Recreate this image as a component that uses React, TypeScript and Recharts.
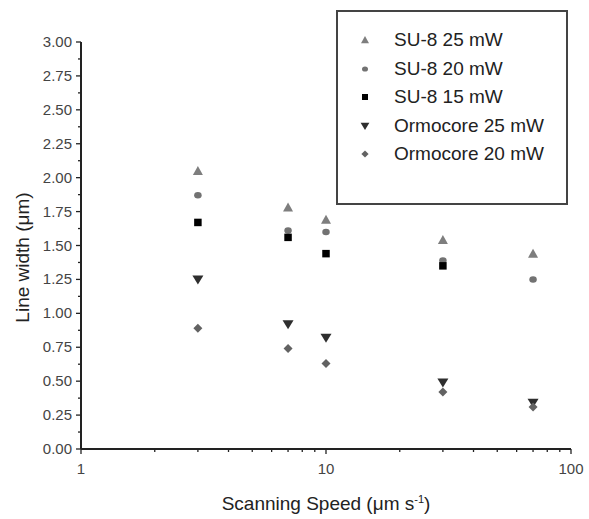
import React from 'react';
import { ScatterChart, Scatter, XAxis, YAxis, Legend, Label } from 'recharts';

const speeds = [3, 7, 10, 30, 70];
const su8_25 = [2.05, 1.78, 1.69, 1.54, 1.44];
const su8_20 = [1.87, 1.61, 1.6, 1.39, 1.25];
const su8_15 = [1.67, 1.56, 1.44, 1.35];
const ormo_25 = [1.25, 0.92, 0.82, 0.49, 0.34];
const ormo_20 = [0.89, 0.74, 0.63, 0.42, 0.31];

const seriesNames = ['SU-8 25 mW', 'SU-8 20 mW', 'SU-8 15 mW', 'Ormocore 25 mW', 'Ormocore 20 mW'];
const seriesColors = ['#7e7e7e', '#727272', '#000000', '#2e2e2e', '#626262'];

const xTicks = [1, 2, 3, 4, 5, 6, 7, 8, 9, 10, 20, 30, 40, 50, 60, 70, 80, 90, 100];
const xLabels = [1, 10, 100];
const yTicks = [0, 0.125, 0.25, 0.375, 0.5, 0.625, 0.75, 0.875, 1, 1.125, 1.25, 1.375, 1.5, 1.625, 1.75, 1.875, 2, 2.125, 2.25, 2.375, 2.5, 2.625, 2.75, 2.875, 3];

const FONT = '"Liberation Sans", Arial, sans-serif';
const AXIS = '#222';
const LABEL = '#444';

const toPoints = (vals: number[]) => vals.map((y, i) => ({ x: speeds[i], y }));

type Sym = (cx: number, cy: number, fill: string, s: number) => React.ReactElement;

const triUp: Sym = (cx, cy, fill, s) => (
  <path d={`M${cx},${cy - s} L${cx + s},${cy + s * 0.8} L${cx - s},${cy + s * 0.8}Z`} fill={fill} />
);
const dot: Sym = (cx, cy, fill, s) => <ellipse cx={cx} cy={cy} rx={s * 0.75} ry={s * 0.65} fill={fill} />;
const square: Sym = (cx, cy, fill, s) => (
  <rect x={cx - s * 0.75} y={cy - s * 0.75} width={s * 1.5} height={s * 1.5} fill={fill} />
);
const triDown: Sym = (cx, cy, fill, s) => (
  <path d={`M${cx - s * 1.1},${cy - s * 0.8} L${cx + s * 1.1},${cy - s * 0.8} L${cx},${cy + s}Z`} fill={fill} />
);
const diamond: Sym = (cx, cy, fill, s) => (
  <path d={`M${cx},${cy - s * 0.9} L${cx + s * 0.9},${cy} L${cx},${cy + s * 0.9} L${cx - s * 0.9},${cy}Z`} fill={fill} />
);

const symbols = [triUp, dot, square, triDown, diamond];
const seriesData = [su8_25, su8_20, su8_15, ormo_25, ormo_20];

const YTick = (props: any) => {
  const { x, y, payload } = props;
  const major = Math.abs(payload.value * 4 - Math.round(payload.value * 4)) < 1e-6;
  return (
    <g>
      <line x1={x - (major ? 5 : 3)} x2={x} y1={y} y2={y} stroke={AXIS} strokeWidth={1.3} />
      {major && (
        <text x={x - 9} y={y + 5} textAnchor="end" fontSize={15} fill={LABEL} fontFamily={FONT}>
          {payload.value.toFixed(2)}
        </text>
      )}
    </g>
  );
};

const XTick = (props: any) => {
  const { x, y, payload } = props;
  const major = xLabels.includes(payload.value);
  return (
    <g>
      <line x1={x} x2={x} y1={y} y2={y + (major ? 5 : 3)} stroke={AXIS} strokeWidth={1.3} />
      {major && (
        <text x={x} y={y + 25} textAnchor="middle" fontSize={15} fill={LABEL} fontFamily={FONT}>
          {payload.value}
        </text>
      )}
    </g>
  );
};

const LegendBox = () => (
  <div
    style={{
      width: 232,
      height: 195,
      boxSizing: 'border-box',
      border: '2px solid #444',
      background: '#fff',
      fontFamily: FONT,
      fontSize: 19,
      color: '#222',
      paddingTop: 14,
    }}
  >
    {seriesNames.map((name, i) => (
      <div key={name} style={{ display: 'flex', alignItems: 'center', height: 28.5 }}>
        <svg width={56} height={20} style={{ flex: 'none' }}>
          {symbols[i](27, 10, seriesColors[i], 4)}
        </svg>
        <span style={{ lineHeight: '20px' }}>{name}</span>
      </div>
    ))}
  </div>
);

export default function App() {
  return (
    <div style={{ position: 'absolute', left: 0, top: 0, background: '#fff' }}>
      <ScatterChart width={589} height={519} margin={{ top: 42, right: 18, left: 0, bottom: 0 }}>
        <XAxis
          type="number"
          dataKey="x"
          scale="log"
          domain={[1, 100]}
          ticks={xTicks}
          interval={0}
          allowDataOverflow
          height={70}
          tickSize={0}
          tickMargin={0}
          tick={<XTick />}
          stroke={AXIS}
          strokeWidth={2}
        >
          <Label
            content={(p: any) => {
              const vb = p.viewBox;
              return (
                <text x={vb.x + vb.width / 2} y={510} textAnchor="middle" fontSize={19} fill="#222" fontFamily={FONT}>
                  Scanning Speed (μm s
                  <tspan dy={-7} fontSize={11}>-1</tspan>
                  <tspan dy={7}>)</tspan>
                </text>
              );
            }}
          />
        </XAxis>
        <YAxis
          type="number"
          dataKey="y"
          domain={[0, 3]}
          ticks={yTicks}
          interval={0}
          width={81}
          tickSize={0}
          tickMargin={0}
          tick={<YTick />}
          stroke={AXIS}
          strokeWidth={2}
        >
          <Label
            content={(p: any) => {
              const vb = p.viewBox;
              const cy = vb.y + vb.height / 2 + 12;
              return (
                <text
                  x={29}
                  y={cy}
                  transform={`rotate(-90 29 ${cy})`}
                  textAnchor="middle"
                  fontSize={19}
                  fill="#222"
                  fontFamily={FONT}
                >
                  Line width (μm)
                </text>
              );
            }}
          />
        </YAxis>
        <Legend
          layout="horizontal"
          verticalAlign="middle"
          align="center"
          content={<LegendBox />}
          wrapperStyle={{ position: 'absolute', left: 336, top: 10, width: 232, height: 195 }}
        />
        {seriesNames.map((name, i) => (
          <Scatter
            key={name}
            name={name}
            data={toPoints(seriesData[i])}
            fill={seriesColors[i]}
            isAnimationActive={false}
            shape={(p: any) => symbols[i](p.cx, p.cy, seriesColors[i], 5)}
          />
        ))}
      </ScatterChart>
    </div>
  );
}
